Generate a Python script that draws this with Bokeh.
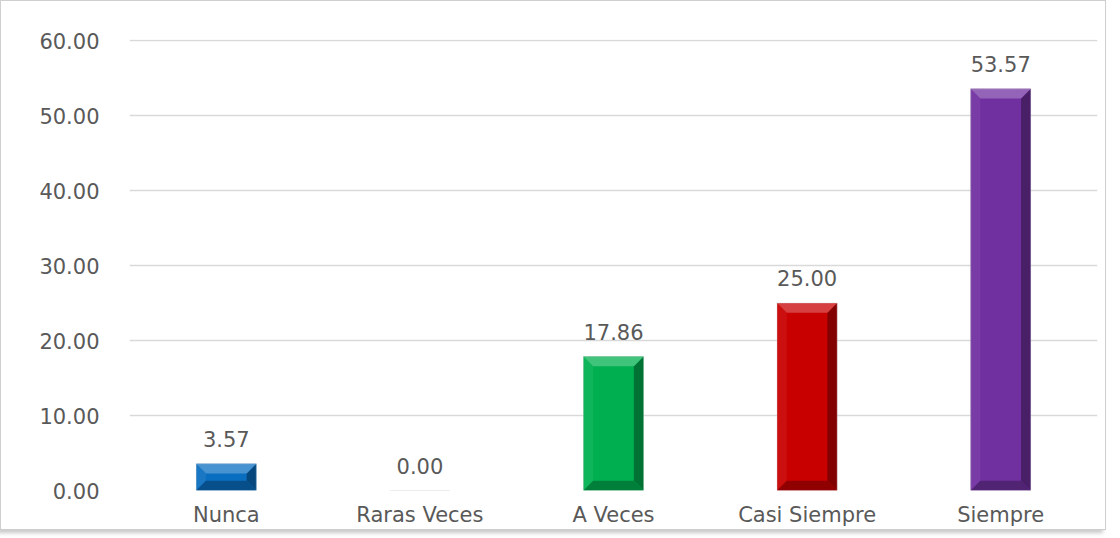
from bokeh.plotting import figure
from bokeh.models import FixedTicker, PrintfTickFormatter, Range1d, ColumnDataSource
from bokeh.core.properties import value
from bokeh.embed import file_html
from bokeh.resources import INLINE

categories = ["Nunca", "Raras Veces", "A Veces", "Casi Siempre", "Siempre"]
values = [3.57, 0.00, 17.86, 25.00, 53.57]
colors = ["#0A6EC0", "#0A6EC0", "#00B050", "#C80000", "#7030A0"]
y_ticks = [0, 10, 20, 30, 40, 50, 60]

FONT = "DejaVu Sans"
TXT = "#595959"


def mix(hexc, other, t):
    a = [int(hexc[i:i + 2], 16) for i in (1, 3, 5)]
    b = [int(other[i:i + 2], 16) for i in (1, 3, 5)]
    c = [round(a[k] * (1 - t) + b[k] * t) for k in range(3)]
    return "#%02x%02x%02x" % tuple(c)


p = figure(width=1104, height=522, output_backend="svg", toolbar_location=None,
           x_range=Range1d(0, len(categories)), y_range=Range1d(0, 60.15),
           frame_width=968, frame_height=451,
           min_border_left=128, min_border_right=8, min_border_top=38,
           min_border_bottom=33)
p.styles = {"border": "1px solid #cfcfcf",
            "box-shadow": "-3px 3px 4px rgba(0,0,0,0.22)"}
p.outline_line_color = None
p.background_fill_color = "white"
p.border_fill_color = "white"

xs = [i + 0.5 for i in range(len(categories))]
bw = 0.31
bx = 0.05    # bevel width in x units
by = 1.3     # bevel height in y units

p.vbar(x=xs, top=values, width=bw, bottom=0, fill_color=colors, line_color=None)

top_x, top_y, top_c = [], [], []
bot_x, bot_y, bot_c = [], [], []
lef_x, lef_y, lef_c = [], [], []
rig_x, rig_y, rig_c = [], [], []
for x, v, c in zip(xs, values, colors):
    if v <= 0:
        continue
    x0, x1 = x - bw / 2, x + bw / 2
    b = min(by, v / 2)
    top_x.append([x0, x1, x1 - bx, x0 + bx]); top_y.append([v, v, v - b, v - b]); top_c.append(mix(c, "#ffffff", 0.25))
    bot_x.append([x0, x1, x1 - bx, x0 + bx]); bot_y.append([0, 0, b, b]); bot_c.append(mix(c, "#000000", 0.28))
    lef_x.append([x0, x0 + bx, x0 + bx, x0]); lef_y.append([0, b, v - b, v]); lef_c.append(mix(c, "#ffffff", 0.06))
    rig_x.append([x1, x1 - bx, x1 - bx, x1]); rig_y.append([0, b, v - b, v]); rig_c.append(mix(c, "#000000", 0.35))

for px, py, pc in [(lef_x, lef_y, lef_c), (rig_x, rig_y, rig_c),
                   (top_x, top_y, top_c), (bot_x, bot_y, bot_c)]:
    p.patches(xs=px, ys=py, fill_color=pc, line_color=None)

p.vbar(x=xs, top=values, width=bw, bottom=0, fill_color=None,
       line_color="#c8c8c8", line_width=0.6, line_alpha=0.6)

src = ColumnDataSource(dict(x=xs, y=values, t=["%.2f" % v for v in values]))
p.text(x="x", y="y", text="t", source=src, y_offset=-17,
       text_align="center", text_baseline="bottom",
       text_font=value(FONT), text_font_size="21px", text_color=TXT)

p.xgrid.grid_line_color = None
p.ygrid.grid_line_color = "#d9d9d9"
p.ygrid.grid_line_width = 1.5
p.ygrid.ticker = FixedTicker(ticks=y_ticks)

p.yaxis.ticker = FixedTicker(ticks=y_ticks)
p.yaxis.formatter = PrintfTickFormatter(format="%.2f")
p.xaxis.ticker = FixedTicker(ticks=xs)
p.xaxis.major_label_overrides = {x: c for x, c in zip(xs, categories)}

for ax in (p.xaxis, p.yaxis):
    ax.axis_line_color = None
    ax.major_tick_line_color = None
    ax.minor_tick_line_color = None
    ax.major_label_text_font = FONT
    ax.major_label_text_font_size = "21px"
    ax.major_label_text_color = TXT
p.yaxis.major_label_standoff = 24
p.xaxis.major_label_standoff = 6

open("out.html", "w").write(file_html(p, INLINE))
